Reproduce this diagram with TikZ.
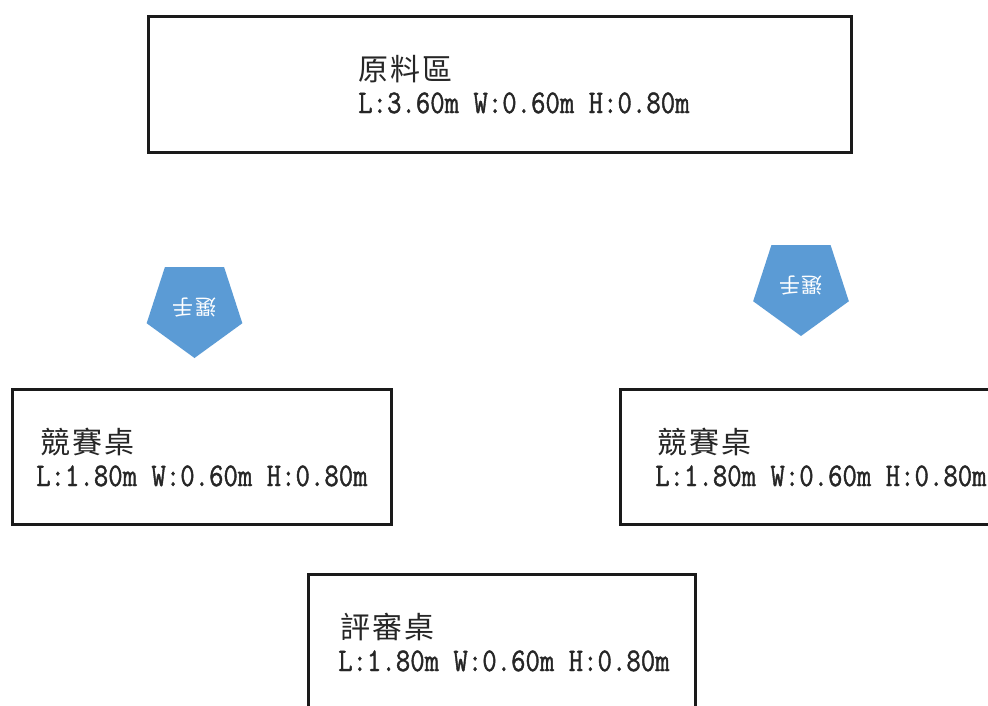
\documentclass[tikz,border=0pt]{standalone}
\usepackage{fontspec}
\usetikzlibrary{shapes.geometric}
\newfontfamily\cjk[LetterSpace=8]{Noto Sans CJK TC}
\newfontfamily\cjkplain[LetterSpace=6]{Noto Sans CJK TC}
\newfontfamily\latinmono[FakeStretch=0.848,FakeBold=1.2]{Latin Modern Mono}
\definecolor{pentblue}{HTML}{5B9BD5}
\definecolor{boxline}{HTML}{1A1A1A}
\begin{document}
\begin{tikzpicture}[x=1pt,y=-1pt,
  box/.style={draw=boxline,line width=2.6pt,anchor=north west,inner sep=0pt},
  titletext/.style={anchor=base west,inner sep=0pt,font=\cjk\fontsize{30}{30}\selectfont,text=black!85},
  dimtext/.style={anchor=base west,inner sep=0pt,font=\latinmono\fontsize{33}{33}\selectfont,text=black!85},
  pent/.style={regular polygon,regular polygon sides=5,rotate=180,fill=pentblue,draw=none,
    inner sep=0pt,minimum size=100.6pt,text=white,font=\cjkplain\fontsize{21}{21}\selectfont}]
\useasboundingbox (0,0) rectangle (988,705);
\clip (0,0) rectangle (988,705);
\fill[white] (0,0) rectangle (988,705);
% boxes
\node[box,minimum width=703pt,minimum height=136pt] (raw) at (147,15) {};
\node[box,minimum width=379pt,minimum height=135pt] (tableL) at (11,388) {};
\node[box,minimum width=420pt,minimum height=135pt] (tableR) at (619,388) {};
\node[box,minimum width=387pt,minimum height=160pt] (judge) at (307,573) {};
% texts
\node[titletext] (rawT) at (358,80) {原料區};
\node[dimtext] (rawD) at (358,113) {L:3.60m W:0.60m H:0.80m};
\node[titletext] (tableLT) at (40,453) {競賽桌};
\node[dimtext] (tableLD) at (36,486) {L:1.80m W:0.60m H:0.80m};
\node[titletext] (tableRT) at (657,453) {競賽桌};
\node[dimtext] (tableRD) at (655,486) {L:1.80m W:0.60m H:0.80m};
\node[titletext] (judgeT) at (340,638) {評審桌};
\node[dimtext] (judgeD) at (338,671) {L:1.80m W:0.60m H:0.80m};
% players
\node[pent] (playerL) at (194.5,307.7) {選手};
\node[pent] (playerR) at (801,285.7) {選手};
\end{tikzpicture}
\end{document}
